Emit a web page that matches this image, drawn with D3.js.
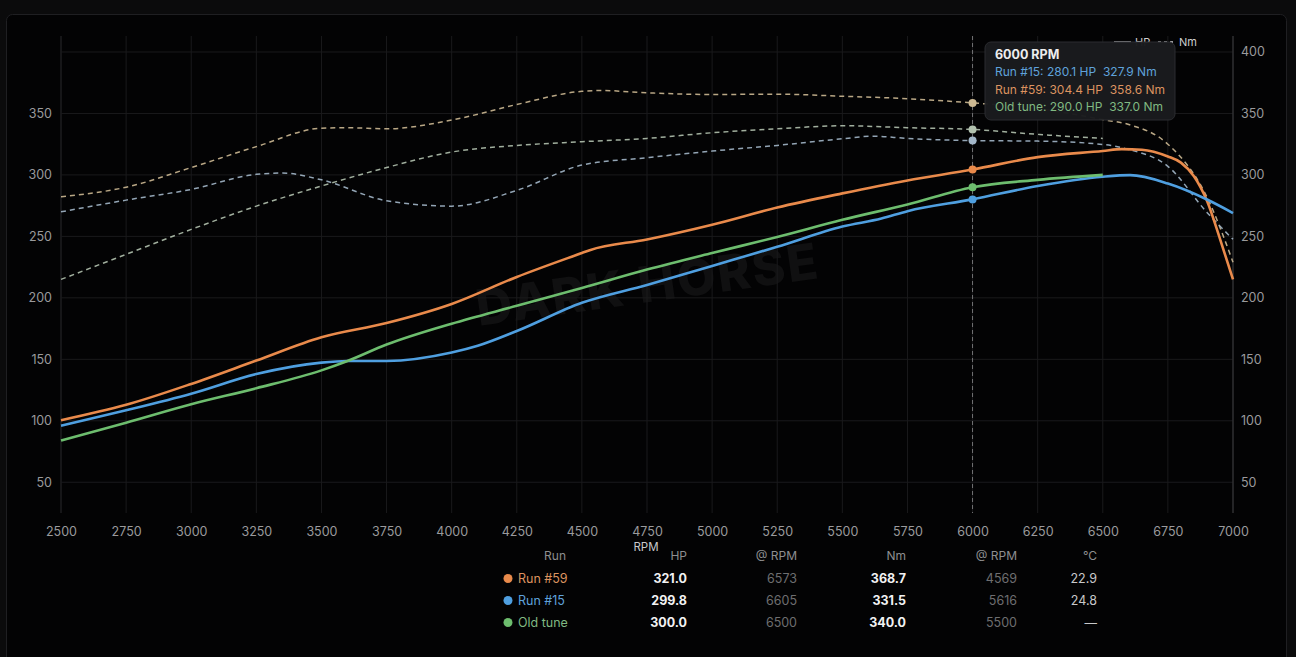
<!DOCTYPE html>
<html>
<head>
<meta charset="utf-8">
<script src="https://cdn.jsdelivr.net/npm/d3@7"></script>
<style>
  html, body { margin: 0; padding: 0; background: #0b0b0c; }
  svg { display: block; font-family: Inter, 'Noto Sans', sans-serif; }
</style>
</head>
<body>
<svg id="dyno"></svg>
<script>
// ---- data ----
let run59Rpm = [2500, 2750, 3000, 3250, 3500, 3750, 4000, 4250, 4500, 4530, 4750, 5000, 5250, 5500, 5750, 6000, 6250, 6500, 6573, 6650, 6750, 6800, 6850, 6900, 6950, 7000]
let run59Hp = [100.5, 113, 130, 149, 168, 179.5, 195, 217, 236.5, 238.8, 247.5, 259.5, 273.5, 285, 295.5, 304.4, 314.5, 319.5, 321, 320.5, 315, 310, 299, 279, 248, 215]

let run15Rpm = [2500, 2750, 3000, 3250, 3500, 3600, 3750, 4000, 4100, 4250, 4500, 4750, 5000, 5250, 5500, 5650, 5750, 6000, 6250, 6500, 6605, 6750, 6900, 7000]
let run15Hp = [96, 108.5, 122, 138, 147.3, 148.6, 148.6, 155.5, 161, 173, 196, 210.5, 226, 241.5, 258, 264.5, 270.5, 280.1, 291, 298.5, 299.8, 293, 280, 269]

let oldRpm = [2500, 2750, 3000, 3250, 3500, 3600, 3750, 4000, 4250, 4500, 4750, 5000, 5250, 5500, 5750, 6000, 6250, 6500]
let oldHp = [84, 98.5, 113.5, 126.5, 141, 148.6, 162, 179, 193.5, 208, 223, 236.5, 249.5, 263.5, 276, 290, 296, 300]

let run59NmRpm = [2500, 2750, 3000, 3250, 3500, 3600, 3750, 4000, 4250, 4500, 4569, 4750, 5000, 5250, 5500, 5750, 6000, 6250, 6500, 6600, 6750, 6900, 7000]
let run59Nm = [282.3, 290, 306, 323, 338, 338.4, 337.5, 344.6, 357.3, 368, 368.7, 366.8, 365.4, 365.7, 364, 362, 358.6, 354, 345, 341, 325, 282, 229]

let run15NmRpm = [2500, 2750, 3000, 3250, 3350, 3500, 3750, 4000, 4250, 4500, 4750, 5000, 5250, 5500, 5616, 5750, 6000, 6250, 6500, 6600, 6750, 6900, 7000]
let run15Nm = [270, 279.5, 288.2, 300.5, 301.5, 296, 279, 274.6, 287.4, 308, 314, 319.4, 324, 329.4, 331.5, 329.7, 327.9, 327.5, 324.8, 320.7, 307, 269.5, 247.6]

let oldNmRpm = [2500, 2750, 3000, 3250, 3500, 3750, 4000, 4250, 4500, 4750, 5000, 5250, 5500, 5750, 6000, 6250, 6500]
let oldNm = [215, 235.4, 255.7, 274.6, 291, 306, 318.6, 324, 327, 329.7, 334.3, 337.5, 340, 338.4, 337, 333, 329.7]

let rpmTicks = [2500, 2750, 3000, 3250, 3500, 3750, 4000, 4250, 4500, 4750, 5000, 5250, 5500, 5750, 6000, 6250, 6500, 6750, 7000]
let hpTicks = [50, 100, 150, 200, 250, 300, 350]
let nmTicks = [50, 100, 150, 200, 250, 300, 350, 400]

let cursorRpm = 6000

// summary table
let tableRuns = ['Run #59', 'Run #15', 'Old tune']
let peakHp = ['321.0', '299.8', '300.0']
let peakHpRpm = ['6573', '6605', '6500']
let peakNm = ['368.7', '331.5', '340.0']
let peakNmRpm = ['4569', '5616', '5500']
let tempC = ['22.9', '24.8', '\u2014']

let width = 1296
let height = 657
let plotLeft = 61
let plotRight = 1233
let plotTop = 36
let plotBottom = 513

let svg = d3.select('#dyno').attr('width', width).attr('height', height)

let series = [
    {name: 'Run #59', rpm: run59Rpm, hp: run59Hp, nmRpm: run59NmRpm, nm: run59Nm, color: '#e98a4b', nmColor: '#cdb993', tip: '#dc9360'},
    {name: 'Run #15', rpm: run15Rpm, hp: run15Hp, nmRpm: run15NmRpm, nm: run15Nm, color: '#4f9fe0', nmColor: '#a3b7c9', tip: '#5fa2db'},
    {name: 'Old tune', rpm: oldRpm, hp: oldHp, nmRpm: oldNmRpm, nm: oldNm, color: '#6dbd6e', nmColor: '#b2c2af', tip: '#80b982'}
]

let xScale = d3.scaleLinear().domain([2500, 7000]).range([plotLeft, plotRight])
let hpScale = d3.scaleLinear().domain([25, 413]).range([plotBottom, plotTop])
let nmScale = d3.scaleLinear().domain([25, 413]).range([plotBottom, plotTop])

// background + panel
svg.append('rect').attr('width', width).attr('height', height).attr('fill', '#0b0b0c')
svg.append('rect')
    .attr('x', 6.5).attr('y', 14.5).attr('width', 1280).attr('height', 670)
    .attr('rx', 6)
    .attr('fill', '#030304').attr('stroke', '#1f1f22')

// watermark
svg.append('text')
    .attr('transform', 'translate(650,302) rotate(-8)')
    .attr('text-anchor', 'middle')
    .attr('font-size', 50).attr('font-weight', 800)
    .attr('letter-spacing', 2)
    .attr('fill', '#101011')
    .text('DARK HORSE')

// grid
let grid = svg.append('g')
grid.selectAll('.vgrid').data(rpmTicks).enter().append('line')
    .attr('x1', d => xScale(d)).attr('x2', d => xScale(d))
    .attr('y1', plotTop).attr('y2', plotBottom)
    .attr('stroke', d => d === 2500 ? '#2a2a2c' : '#1a1a1c').attr('stroke-width', 1)
grid.selectAll('.hgrid').data(nmTicks).enter().append('line')
    .attr('x1', plotLeft).attr('x2', plotRight)
    .attr('y1', d => nmScale(d)).attr('y2', d => nmScale(d))
    .attr('stroke', '#1a1a1c').attr('stroke-width', 1)
svg.append('line')
    .attr('x1', plotRight).attr('x2', plotRight).attr('y1', plotTop).attr('y2', plotBottom)
    .attr('stroke', '#3a3a3c')

// axes
let xAxis = d3.axisBottom(xScale).tickValues(rpmTicks).tickSize(0).tickPadding(14).tickFormat(d3.format('d'))
let hpAxis = d3.axisLeft(hpScale).tickValues(hpTicks).tickSize(0).tickPadding(9)
let nmAxis = d3.axisRight(nmScale).tickValues(nmTicks).tickSize(0).tickPadding(8)

let styleAxis = (g) => {
    g.select('.domain').remove()
    g.selectAll('text').attr('fill', '#9a9a9c').attr('font-size', 12.5)
        .attr('font-family', "Inter, 'Noto Sans', sans-serif")
}
svg.append('g').attr('transform', 'translate(0,' + plotBottom + ')').call(xAxis).call(styleAxis)
svg.append('g').attr('transform', 'translate(' + plotLeft + ',0)').call(hpAxis).call(styleAxis)
svg.append('g').attr('transform', 'translate(' + plotRight + ',0)').call(nmAxis).call(styleAxis)

svg.append('text')
    .attr('x', 646).attr('y', 551).attr('text-anchor', 'middle')
    .attr('font-size', 11.5).attr('fill', '#c8c8ca')
    .text('RPM')

// lines
let plot = svg.append('g')

series.forEach(s => {
    plot.append('path')
        .attr('d', d3.line().curve(d3.curveMonotoneX)
            .x((d, i) => xScale(s.nmRpm[i])).y(d => nmScale(d))(s.nm))
        .attr('fill', 'none').attr('stroke', s.nmColor)
        .attr('stroke-width', 1.5).attr('stroke-dasharray', '5,4')
        .attr('opacity', 0.9)
})
series.forEach(s => {
    plot.append('path')
        .attr('d', d3.line().curve(d3.curveMonotoneX)
            .x((d, i) => xScale(s.rpm[i])).y(d => hpScale(d))(s.hp))
        .attr('fill', 'none').attr('stroke', s.color)
        .attr('stroke-width', 2.6).attr('stroke-linejoin', 'round')
})

// cursor
svg.append('line')
    .attr('x1', xScale(cursorRpm)).attr('x2', xScale(cursorRpm))
    .attr('y1', plotTop).attr('y2', plotBottom)
    .attr('stroke', '#8a8a8c').attr('stroke-width', 1).attr('stroke-dasharray', '4,3')
    .attr('opacity', 0.8)

let valueAt = (xs, ys) => ys[xs.indexOf(cursorRpm)]

series.forEach(s => {
    svg.append('circle')
        .attr('cx', xScale(cursorRpm)).attr('cy', nmScale(valueAt(s.nmRpm, s.nm)))
        .attr('r', 4).attr('fill', s.nmColor)
    svg.append('circle')
        .attr('cx', xScale(cursorRpm)).attr('cy', hpScale(valueAt(s.rpm, s.hp)))
        .attr('r', 4).attr('fill', s.color)
})

// legend (HP solid / Nm dashed)
let legend = svg.append('g').attr('font-size', 11).attr('fill', '#cfcfd1')
legend.append('line').attr('x1', 1114).attr('x2', 1131).attr('y1', 42).attr('y2', 42)
    .attr('stroke', '#cfcfd1').attr('stroke-width', 1.5)
legend.append('text').attr('x', 1135).attr('y', 46).text('HP')
legend.append('line').attr('x1', 1158).attr('x2', 1175).attr('y1', 42).attr('y2', 42)
    .attr('stroke', '#cfcfd1').attr('stroke-width', 1.5).attr('stroke-dasharray', '3,3')
legend.append('text').attr('x', 1179).attr('y', 46).text('Nm')

// tooltip
let tip = svg.append('g').attr('transform', 'translate(985,42)')
tip.append('rect').attr('width', 190).attr('height', 78).attr('rx', 6)
    .attr('fill', '#1a1b1e').attr('stroke', '#2d2e32').attr('opacity', 0.97)
tip.append('text').attr('x', 10).attr('y', 17)
    .attr('font-size', 12.5).attr('font-weight', 700).attr('fill', '#ededee')
    .text(cursorRpm + ' RPM')
let tipOrder = [1, 0, 2]
tipOrder.forEach((k, i) => {
    let s = series[k]
    tip.append('text')
        .attr('x', 10).attr('y', 34 + i * 17.5)
        .attr('font-size', 12).attr('fill', s.tip)
        .style('white-space', 'pre')
        .text(s.name + ': ' + valueAt(s.rpm, s.hp).toFixed(1) + ' HP  ' + valueAt(s.nmRpm, s.nm).toFixed(1) + ' Nm')
})

// summary table
let table = svg.append('g').attr('font-size', 12.5)
let headers = [['Run', 566], ['HP', 687], ['@ RPM', 797], ['Nm', 906], ['@ RPM', 1017], ['\u00b0C', 1097]]
headers.forEach(h => {
    table.append('text').attr('x', h[1]).attr('y', 560).attr('text-anchor', 'end')
        .attr('fill', '#8e8e90').attr('font-size', 12).text(h[0])
})
tableRuns.forEach((name, i) => {
    let s = series[i]
    let y = 583 + i * 22
    table.append('circle').attr('cx', 508).attr('cy', y - 4.5).attr('r', 4.5).attr('fill', s.color)
    table.append('text').attr('x', 518).attr('y', y).attr('fill', s.tip).text(name)
    table.append('text').attr('x', 687).attr('y', y).attr('text-anchor', 'end')
        .attr('fill', '#f2f2f3').attr('font-weight', 700).text(peakHp[i])
    table.append('text').attr('x', 797).attr('y', y).attr('text-anchor', 'end')
        .attr('fill', '#6e6e70').text(peakHpRpm[i])
    table.append('text').attr('x', 906).attr('y', y).attr('text-anchor', 'end')
        .attr('fill', '#f2f2f3').attr('font-weight', 700).text(peakNm[i])
    table.append('text').attr('x', 1017).attr('y', y).attr('text-anchor', 'end')
        .attr('fill', '#6e6e70').text(peakNmRpm[i])
    table.append('text').attr('x', 1097).attr('y', y).attr('text-anchor', 'end')
        .attr('fill', '#c8c8ca').text(tempC[i])
})
</script>
</body>
</html>
